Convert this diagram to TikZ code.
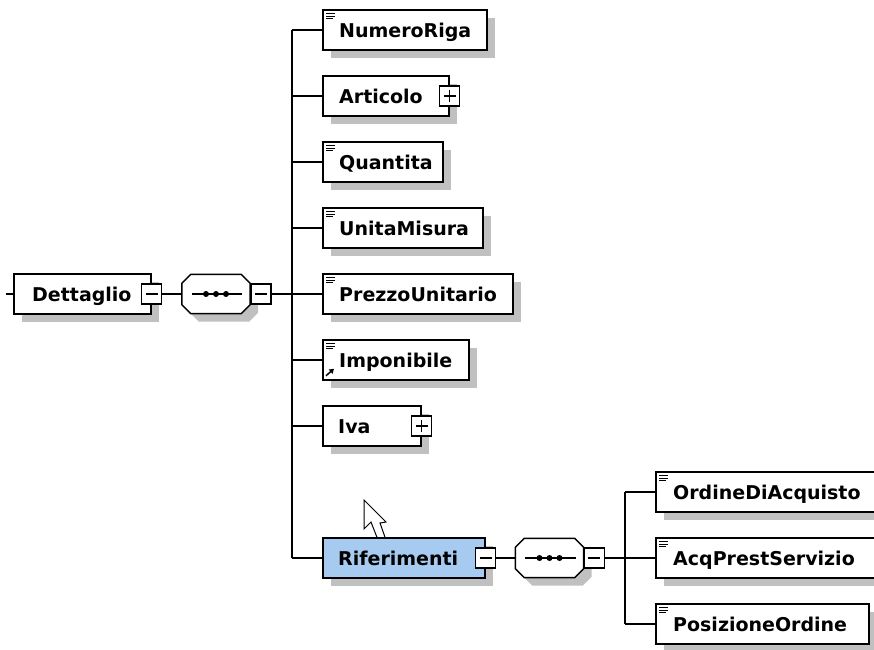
\documentclass[tikz,border=0pt]{standalone}
\usepackage{fontspec}
\newfontfamily\xsfont{DejaVu Sans}
\usetikzlibrary{shadows,arrows.meta}
\definecolor{shadowc}{RGB}{192,192,192}
\definecolor{selblue}{RGB}{166,202,240}
\tikzset{
  lw/.style={line width=1.5pt},
  elem/.style={draw, lw, fill=white, minimum height=40pt, inner sep=0pt, anchor=west,
    drop shadow={shadow xshift=8pt, shadow yshift=-8pt, fill=shadowc, opacity=1}},
  lbl/.style={anchor=base west, inner sep=0pt, font=\xsfont\bfseries\fontsize{19}{21}\selectfont},
  pmbox/.style={draw, lw, fill=white, minimum size=20pt, inner sep=0pt},
  minusbox/.style={pmbox, path picture={\draw[lw] ([xshift=-6pt]path picture bounding box.center) -- ([xshift=6pt]path picture bounding box.center);}},
  plusbox/.style={pmbox, path picture={\draw[lw] ([xshift=-6pt]path picture bounding box.center) -- ([xshift=6pt]path picture bounding box.center);
     \draw[lw] ([yshift=-6pt]path picture bounding box.center) -- ([yshift=6pt]path picture bounding box.center);}},
  seqbox/.style={minimum width=68pt, minimum height=39pt, inner sep=0pt},
  conn/.style={lw},
  iconline/.style={line width=1.3pt},
}
% element box: name, left x, centre y, width, text, text inset, extra style
\newcommand\elem[7]{%
  \node[elem, minimum width=#4pt, #7] (#1) at (#2,#3) {};
  \node[lbl] (#1-t) at ([xshift=#6pt,yshift=-7pt]#1.west) {#5};
}
\newcommand\simpleicon[1]{%
  \draw[iconline] ([xshift=4pt,yshift=-4.5pt]#1.north west) -- ++(9pt,0pt);
  \draw[iconline] ([xshift=4pt,yshift=-7pt]#1.north west) -- ++(9pt,0pt);
  \draw[iconline] ([xshift=4pt,yshift=-9.5pt]#1.north west) -- ++(7pt,0pt);
}
\newcommand\octpath[3]{%
  ([xshift=9pt+#2,yshift=#3]#1.north west) -- ([xshift=-9pt+#2,yshift=#3]#1.north east) --
  ([xshift=#2,yshift=-9pt+#3]#1.north east) -- ([xshift=#2,yshift=9pt+#3]#1.south east) --
  ([xshift=-9pt+#2,yshift=#3]#1.south east) -- ([xshift=9pt+#2,yshift=#3]#1.south west) --
  ([xshift=#2,yshift=9pt+#3]#1.south west) -- ([xshift=#2,yshift=-9pt+#3]#1.north west) -- cycle
}
\newcommand\octagon[1]{%
  \fill[shadowc] \octpath{#1}{8pt}{-8pt};
  \draw[lw, fill=white] \octpath{#1}{0pt}{0pt};
  \draw[conn] ([xshift=10pt]#1.west) -- ([xshift=-8pt]#1.east);
  \foreach \dx in {-10,0,10}{
    \fill ([xshift=\dx pt]#1.center) circle (3pt);
  }
}
\begin{document}
\begin{tikzpicture}[x=1pt,y=-1pt]
\useasboundingbox (0,0) rectangle (874,649);

% root
\elem{det}{13}{294}{137}{Dettaglio}{19}{}
\node[minusbox] (detm) at (det.east) {};
\node[seqbox] (seq1) at (216,294) {};
\octagon{seq1}
\node[minusbox, anchor=west] (seq1m) at (seq1.east) {};

% children
\elem{numeroriga}{322}{30}{164}{NumeroRiga}{17}{}
\simpleicon{numeroriga}
\elem{articolo}{322}{96}{126}{Articolo}{17}{}
\node[plusbox] (articolop) at (articolo.east) {};
\elem{quantita}{322}{162}{120}{Quantita}{17}{}
\simpleicon{quantita}
\elem{unitamisura}{322}{228}{160}{UnitaMisura}{17}{}
\simpleicon{unitamisura}
\elem{prezzounitario}{322}{294}{190}{PrezzoUnitario}{17}{}
\simpleicon{prezzounitario}
\elem{imponibile}{322}{360}{146}{Imponibile}{17}{}
\simpleicon{imponibile}
\draw[line width=1.5pt, -{Triangle[length=4.5pt,width=5.5pt]}] ([xshift=4pt,yshift=5pt]imponibile.south west) -- ++(8pt,7pt);
\elem{iva}{322}{426}{98}{Iva}{16}{}
\node[plusbox] (ivap) at (iva.east) {};

% mouse cursor
\draw[line width=1pt, fill=white] (364,500) -- (364,529) -- (371,522) -- (378,540) -- (386,540) -- (380,523) -- (386,522) -- cycle;

\elem{riferimenti}{322}{558}{162}{Riferimenti}{16}{fill=selblue}
\node[minusbox] (rifm) at (riferimenti.east) {};
\node[seqbox] (seq2) at (549.5,558) {};
\octagon{seq2}
\node[minusbox, anchor=west] (seq2m) at (seq2.east) {};

\elem{ordine}{655}{492}{250}{OrdineDiAcquisto}{18}{}
\simpleicon{ordine}
\elem{acq}{655}{558}{250}{AcqPrestServizio}{18}{}
\simpleicon{acq}
\elem{posizione}{655}{624}{213}{PosizioneOrdine}{18}{}
\simpleicon{posizione}

% connectors
\coordinate (in) at (6,294);
\draw[conn] (in) -- (det.west);
\draw[conn] (detm.east) -- (seq1.west);
\coordinate (t1) at (292,294);
\draw[conn] (seq1m.east) -- (t1);
\draw[conn] (t1 |- numeroriga.west) -- (t1 |- riferimenti.west);
\foreach \c in {numeroriga,articolo,quantita,unitamisura,prezzounitario,imponibile,iva,riferimenti}{
  \draw[conn] (t1 |- \c.west) -- (\c.west);
}
\draw[conn] (rifm.east) -- (seq2.west);
\coordinate (t2) at (625,558);
\draw[conn] (seq2m.east) -- (t2);
\draw[conn] (t2 |- ordine.west) -- (t2 |- posizione.west);
\foreach \c in {ordine,acq,posizione}{
  \draw[conn] (t2 |- \c.west) -- (\c.west);
}
\end{tikzpicture}
\end{document}
